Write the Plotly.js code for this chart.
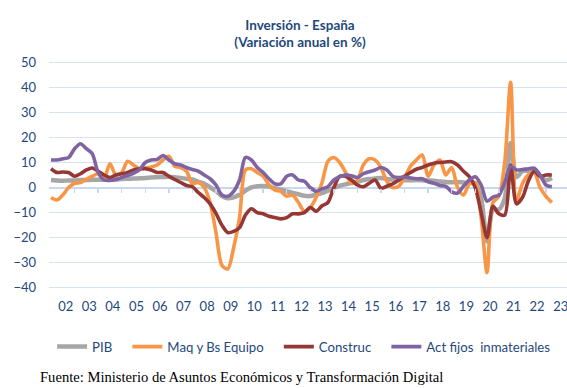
<!DOCTYPE html>
<html>
<head>
<meta charset="utf-8">
<script src="https://cdn.plot.ly/plotly-3.0.1.min.js"></script>
<style>html,body{margin:0;padding:0;background:#fff;}#chart{width:567px;height:388px;}</style>
</head>
<body>
<div id="chart"></div>
<script>
// First quarter in the series: 2001 Q4, quarterly data
const startYear = 2001;
const startQuarter = 4;

const seriesNames = ["PIB", "Maq y Bs Equipo", "Construc", "Act fijos  inmateriales"];

const pib = [3.0, 2.8, 2.7, 2.8, 2.8, 3.0, 3.0, 3.1, 3.1, 3.2, 3.2, 3.2, 3.4, 3.5, 3.6, 3.7, 3.8, 4.0, 4.1, 4.2,
  4.3, 4.1, 3.8, 3.5, 3.2, 2.3, 1.5, 0.1, -1.4, -3.4, -4.3, -3.9, -2.9, -1.2, 0.1, 0.5, 0.6, 0.4, -0.3, -0.8,
  -1.5, -2.2, -2.7, -3.3, -3.4, -2.8, -2.2, -1.3, -0.2, 0.7, 1.3, 1.8, 2.2, 3.0, 3.4, 3.6, 3.8, 3.4, 3.2, 3.0,
  2.9, 2.9, 3.0, 2.9, 2.8, 2.7, 2.4, 2.2, 2.1, 2.2, 2.0, 1.8, 1.7, -4.3, -21.5, -8.7, -8.8, -4.2, 17.8, 4.2,
  6.6, 6.7, 7.0, 4.7, 2.9, 3.8];

const maq = [-4, -5, -3, 0, 1.7, 2, 3.3, 4.5, 5.5, 3.8, 9.5, 5, 6, 10.5, 9, 7.5, 7.8, 8.2, 9, 11,
  12.5, 8.5, 8, 6.5, 1.5, 2, 0, -6, -18, -31, -32.5, -24, -12, 7, 7.5, 6, 4.5, 1, -1, -1.5,
  -3.5, -3, -6, -9.5, -8, -4, 2, 10.5, 12, 10, 6, 1.7, 3, 9, 11.5, 11, 8, 2.5, 0, 0.5,
  4, 8.5, 11, 13, 4.5, 9, 11, 5, 8, 0, -3, 1.5, 2, -12, -34, -6, -3.5, 10, 42, -5,
  1.5, 5, 6, 0, -3.5, -6];

const construc = [7.5, 6, 6.2, 6, 4.5, 5.5, 7, 7.8, 6.5, 5, 4, 5, 5.5, 6, 7, 7.5, 7.5, 7, 6, 6,
  4.5, 3.2, 2, 0.8, 0.3, -2, -4, -6.5, -10.3, -15, -18, -17.5, -16, -11, -8.5, -10, -10.5, -11.5, -12, -12.5,
  -12, -10.5, -10.5, -10, -8, -9.5, -7.3, -6, 0, 4.5, 4.5, 3, 1, 0.3, 1.7, 3, -0.3, 0.5, 1.5, 3,
  4.5, 6, 7.3, 8, 9, 9.7, 10, 10.2, 10.3, 9, 6.5, 4.3, 0, -10, -20, -7.5, -10.5, -11, 9, -6.5,
  -4, 2.5, 6.5, 4.5, 5, 5];

const actFijos = [11, 11, 11.5, 12, 15.5, 17.5, 15.5, 13.5, 6, 3, 2.8, 3.2, 4, 4.8, 5.7, 7, 10, 11, 11.2, 12.8,
  11, 9.5, 9, 8, 7.2, 6.5, 5, 3.5, 1, -3, -3.5, -1.5, 3, 12, 11, 8, 6, 3.5, 1.5, 1.5,
  4.5, 5, 3, 2.5, 0, -1.5, -0.5, 0.3, 3, 4.3, 5, 4.7, 4, 5.5, 6.3, 7, 8, 7, 4.5, 4,
  4.2, 3.8, 3.5, 3.5, 2.3, 1.7, 0.8, 0.5, -1.7, -2.2, 0.5, 3, 4.3, 1, -5.5, -3.8, -3, 2, 8.5, 7,
  7.2, 7.5, 7.7, 5, 1, 0.3];

const yearLabels = ["02","03","04","05","06","07","08","09","10","11","12","13","14","15","16","17","18","19","20","21","22","23"];
const yTicks = [50, 40, 30, 20, 10, 0, -10, -20, -30, -40];

const colors = ["#A6A6A6", "#F79646", "#953735", "#8064A2"];
const widths = [4.5, 3.6, 3.6, 3.6];

// quarter positions (year + mid-quarter fraction)
function quarterX(n) {
  const out = [];
  for (let k = 0; k < n; k++) {
    const q = startQuarter - 1 + k;
    const yr = startYear + Math.floor(q / 4);
    const qq = (q % 4) + 1;
    out.push(yr + (qq - 0.5) / 4);
  }
  return out;
}
const xq = quarterX(pib.length);
const labelVals = yearLabels.map(s => 2000 + parseInt(s, 10) + 0.5);
const tickMarkVals = yearLabels.slice(0, -1).map(s => 2000 + parseInt(s, 10) + 0.875);

// legend entries are spaced apart with trailing no-break spaces
const legendPad = "\u00a0\u00a0\u00a0";
const allSeries = [pib, maq, construc, actFijos];
const traces = allSeries.map((vals, k) => ({
  type: "scatter", mode: "lines", name: seriesNames[k] + (k < 3 ? legendPad : ""),
  x: xq, y: vals,
  line: { color: colors[k], width: widths[k], shape: "spline", smoothing: 0.8 },
  hoverinfo: "skip"
}));
// carrier for the tick-mark axis on the zero line
traces.push({ type: "scatter", mode: "lines", x: xq, y: pib, xaxis: "x2", showlegend: false,
  hoverinfo: "skip", line: { width: 0, color: "rgba(0,0,0,0)" } });

const plotW = 518, plotLeft = 49, pxPerYear = 23.57, plotTop = 61, plotH = 228;
const x0 = 2001.79;
const x1 = x0 + plotW / pxPerYear;
const yr = [-40.5, 50.5];
const plotBottom = plotTop + plotH;

const font = "Lato, 'Open Sans', sans-serif";
const blue = "#1F497D";
const gridCol = "#D7E3F2";

const layout = {
  width: 567, height: 388,
  margin: { l: plotLeft, r: 0, t: plotTop, b: 388 - plotBottom },
  paper_bgcolor: "#fff", plot_bgcolor: "#fff",
  title: { text: "Inversión - España<br>(Variación anual en %)", x: 300 / 567, xanchor: "center",
    yref: "container", y: 1 - 29.5 / 388, yanchor: "middle",
    font: { family: font, size: 13.5, color: blue, weight: "bold" } },
  xaxis: { range: [x0, x1], tickvals: labelVals, ticktext: yearLabels, showgrid: false, zeroline: false,
    showline: false, ticks: "", ticklabelstandoff: 8, ticklabeloverflow: "allow",
    tickfont: { family: font, size: 13, color: blue } },
  xaxis2: { matches: "x", overlaying: "x", anchor: "free", position: (0 - yr[0]) / (yr[1] - yr[0]),
    tickvals: tickMarkVals, showticklabels: false, ticks: "outside", ticklen: 4, tickwidth: 1.5,
    tickcolor: "#C8D8EE", showgrid: false, zeroline: false, showline: false },
  yaxis: { range: yr, tickvals: yTicks, showgrid: true, gridcolor: gridCol, gridwidth: 1.3,
    zeroline: true, zerolinecolor: "#C8D8EE", zerolinewidth: 2, showline: false, ticks: "",
    ticklabelstandoff: 12, tickfont: { family: font, size: 13, color: blue } },
  showlegend: true,
  legend: { orientation: "h", x: 0.006, xanchor: "left", y: (plotBottom - 347) / plotH, yanchor: "middle",
    font: { family: font, size: 13.2, color: blue }, bgcolor: "rgba(0,0,0,0)" },
  annotations: [{
    text: "Fuente: Ministerio de Asuntos Económicos y Transformación Digital",
    xref: "paper", yref: "paper", x: (38 - plotLeft) / plotW, y: (plotBottom - 377) / plotH,
    xanchor: "left", yanchor: "middle",
    showarrow: false, font: { family: "'Liberation Serif', 'Times New Roman', serif", size: 14.6, color: "#000" }
  }]
};

Plotly.newPlot("chart", traces, layout, { staticPlot: true, displayModeBar: false });
</script>
</body>
</html>
